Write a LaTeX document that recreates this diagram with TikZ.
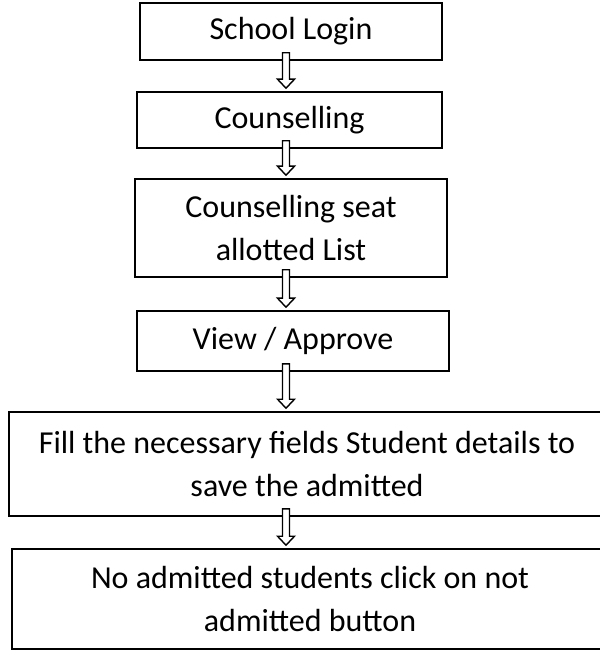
\documentclass[tikz,border=0pt]{standalone}
\usepackage{fontspec}
\setmainfont{Carlito}

\def\stemw{1.75pt}
\def\headw{4.25pt}
\def\headl{6pt}

\tikzset{
  stepbox/.style={draw, line width=0.8pt, inner sep=0pt, align=center,
    font=\fontsize{16}{21.5}\selectfont},
  fatarrow/.style={draw, line width=0.7pt, fill=white, to path={
    ([xshift=-\stemw,yshift=4pt]\tikztostart)
    -- ([xshift=-\stemw,yshift=\headl]\tikztotarget)
    -- ([xshift=-\headw,yshift=\headl]\tikztotarget)
    -- ([yshift=1.5pt]\tikztotarget)
    -- ([xshift=\headw,yshift=\headl]\tikztotarget)
    -- ([xshift=\stemw,yshift=\headl]\tikztotarget)
    -- ([xshift=\stemw,yshift=4pt]\tikztostart)
    -- cycle}}
}

\begin{document}
\begin{tikzpicture}[x=0.5pt,y=-0.5pt]

\useasboundingbox (0,0) rectangle (599,651);

% arrows run down this line
\coordinate (spine) at (286,0);

\node[stepbox, minimum width=151pt, minimum height=28.5pt] (login) at (291,31.5) {School Login};
\node[stepbox, minimum width=152.5pt, minimum height=28pt] (couns) at (289.5,120) {Counselling};
\node[stepbox, minimum width=156pt, minimum height=49pt] (seat) at (291,228) {Counselling seat\\allotted List};
\node[stepbox, minimum width=156pt, minimum height=30pt] (view) at (293,341) {View / Approve};
\node[stepbox, minimum width=298pt, minimum height=52pt] (fill) at (307,464) {Fill the necessary fields Student details to\\save the admitted};
\node[stepbox, minimum width=298pt, minimum height=50pt] (notadm) at (310,599) {No admitted students click on not\\admitted button};

\draw[fatarrow] (spine |- login.south) to (spine |- couns.north);
\draw[fatarrow] (spine |- couns.south) to (spine |- seat.north);
\draw[fatarrow] (spine |- seat.south) to (spine |- view.north);
\draw[fatarrow] (spine |- view.south) to (spine |- fill.north);
\draw[fatarrow] (spine |- fill.south) to (spine |- notadm.north);

\end{tikzpicture}
\end{document}
